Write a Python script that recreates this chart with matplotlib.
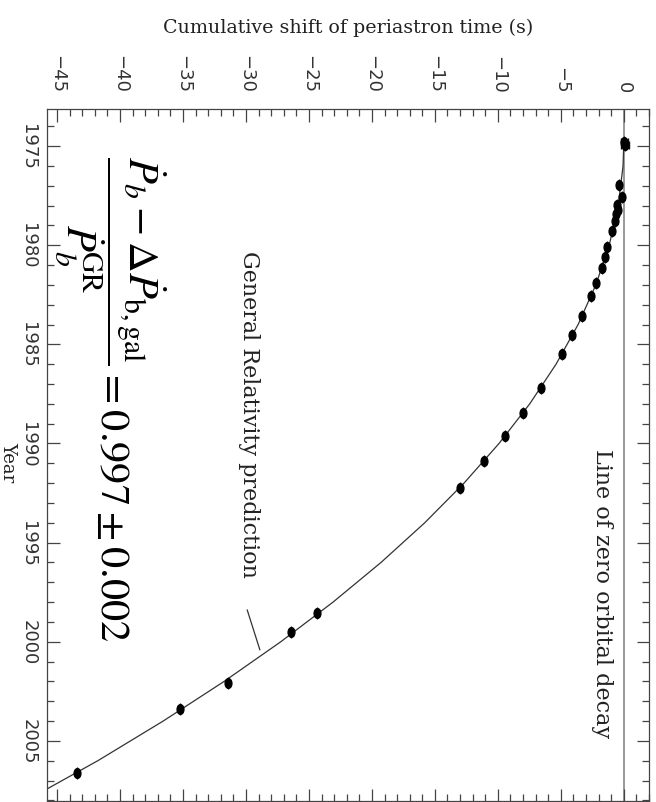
import matplotlib
matplotlib.use('Agg')
import matplotlib.pyplot as plt
from matplotlib.path import Path
from matplotlib.transforms import Affine2D
from matplotlib.ticker import MultipleLocator

# measured timing points (year, cumulative shift in s)
years = [1974.8, 1974.95, 1976.95, 1977.55, 1977.95, 1978.2, 1978.45, 1978.8,
         1979.3, 1980.1, 1980.6, 1981.15, 1981.9, 1982.55, 1983.55, 1984.55,
         1985.5, 1987.2, 1988.45, 1989.6, 1990.9, 1992.25, 1998.55, 1999.5,
         2002.1, 2003.4, 2006.6]
shifts = [0.05, 0.1, -0.37, -0.16, -0.58, -0.5, -0.6, -0.7,
          -0.9, -1.3, -1.5, -1.75, -2.2, -2.6, -3.3, -4.1,
          -4.9, -6.6, -8.0, -9.4, -11.1, -13.0, -24.4, -26.4,
          -31.4, -35.2, -43.4]

# general relativity prediction
gr_years = [1974.8, 1976, 1978, 1980, 1982, 1984, 1986, 1988, 1990, 1992,
            1994, 1996, 1998, 2000, 2002, 2004, 2006, 2007.6]
gr_shift = [0.0, -0.06, -0.44, -1.16, -2.22, -3.63, -5.38, -7.47, -9.91,
            -12.69, -15.81, -19.28, -23.09, -27.24, -31.74, -36.58, -41.77, -46.3]

x_ticks = [-45, -40, -35, -30, -25, -20, -15, -10, -5, 0]
y_ticks = [1975, 1980, 1985, 1990, 1995, 2000, 2005]

plt.rcParams['mathtext.fontset'] = 'stix'
txt = '#222222'

fig = plt.figure(figsize=(6.56, 8.03), dpi=100)
ax = fig.add_axes([47/656, 1 - 802/803, (649-47)/656, (802-110)/803])

ax.axvline(0, color='#999999', lw=1.4, zorder=1)
ax.plot(gr_shift, gr_years, color='#333333', lw=0.9, zorder=2)

# ellipse marker (tall dots)
ell = Path.unit_circle().transformed(Affine2D().scale(0.7, 1.0))
ax.errorbar(shifts, years, yerr=0.3, fmt='none', ecolor='#111111', elinewidth=0.9, zorder=3)
ax.errorbar(shifts[:2], years[:2], xerr=0.3, fmt='none', ecolor='#111111',
            elinewidth=0.9, capsize=3, zorder=3)
ax.plot(shifts, years, ls='none', marker=ell, ms=7, color='black', zorder=4)

ax.set_xlim(-45.8, 2.0)
ax.set_ylim(2008.03, 1973.13)

ax.xaxis.set_minor_locator(MultipleLocator(1))
ax.yaxis.set_minor_locator(MultipleLocator(1))
ax.set_xticks(x_ticks)
ax.set_yticks(y_ticks)
ax.set_xticklabels(['\u2212' + str(-v) if v < 0 else str(v) for v in x_ticks])
ax.tick_params(which='both', direction='in', top=True, bottom=True, left=True, right=True,
               color='#444444', width=0.9)
ax.tick_params(which='major', length=9)
ax.tick_params(which='minor', length=5)
ax.tick_params(axis='x', labeltop=True, labelbottom=False, labelrotation=-90, pad=12,
               labelsize=13, labelcolor='#333333')
ax.tick_params(axis='y', labelleft=True, labelrotation=-90, pad=7,
               labelsize=13, labelcolor='#333333')
for lab in ax.get_yticklabels():
    lab.set_va('center')
for s in ax.spines.values():
    s.set_color('#444444')
    s.set_linewidth(0.9)

fig.text((47+649)/2/656, 1 - 28/803, 'Cumulative shift of periastron time (s)',
         ha='center', va='center', fontsize=13.7, family='DejaVu Serif', color=txt)
fig.text(8/656, 1 - 462/803, 'Year', rotation=-90, ha='center', va='center',
         fontsize=13, family='DejaVu Serif', color=txt)

ax.text(-29.8, 1988.46, 'General Relativity prediction', rotation=-90,
        ha='center', va='center', fontsize=16, family='DejaVu Serif', color=txt)
ax.plot([-29.9, -28.9], [1998.4, 2000.4], color='#333333', lw=0.9)
ax.text(-1.75, 1997.54, 'Line of zero orbital decay', rotation=-90,
        ha='center', va='center', fontsize=16, family='DejaVu Serif', color=txt)

ax.text(-40.8, 1987.7,
        r'$\dfrac{\dot{P}_b - \Delta\dot{P}_{\rm b,gal}}{\dot{P}_b^{\rm GR}} = 0.997 \pm 0.002$',
        rotation=-90, ha='center', va='center', fontsize=30.5, color='black')

fig.savefig('out.png', dpi=100)
